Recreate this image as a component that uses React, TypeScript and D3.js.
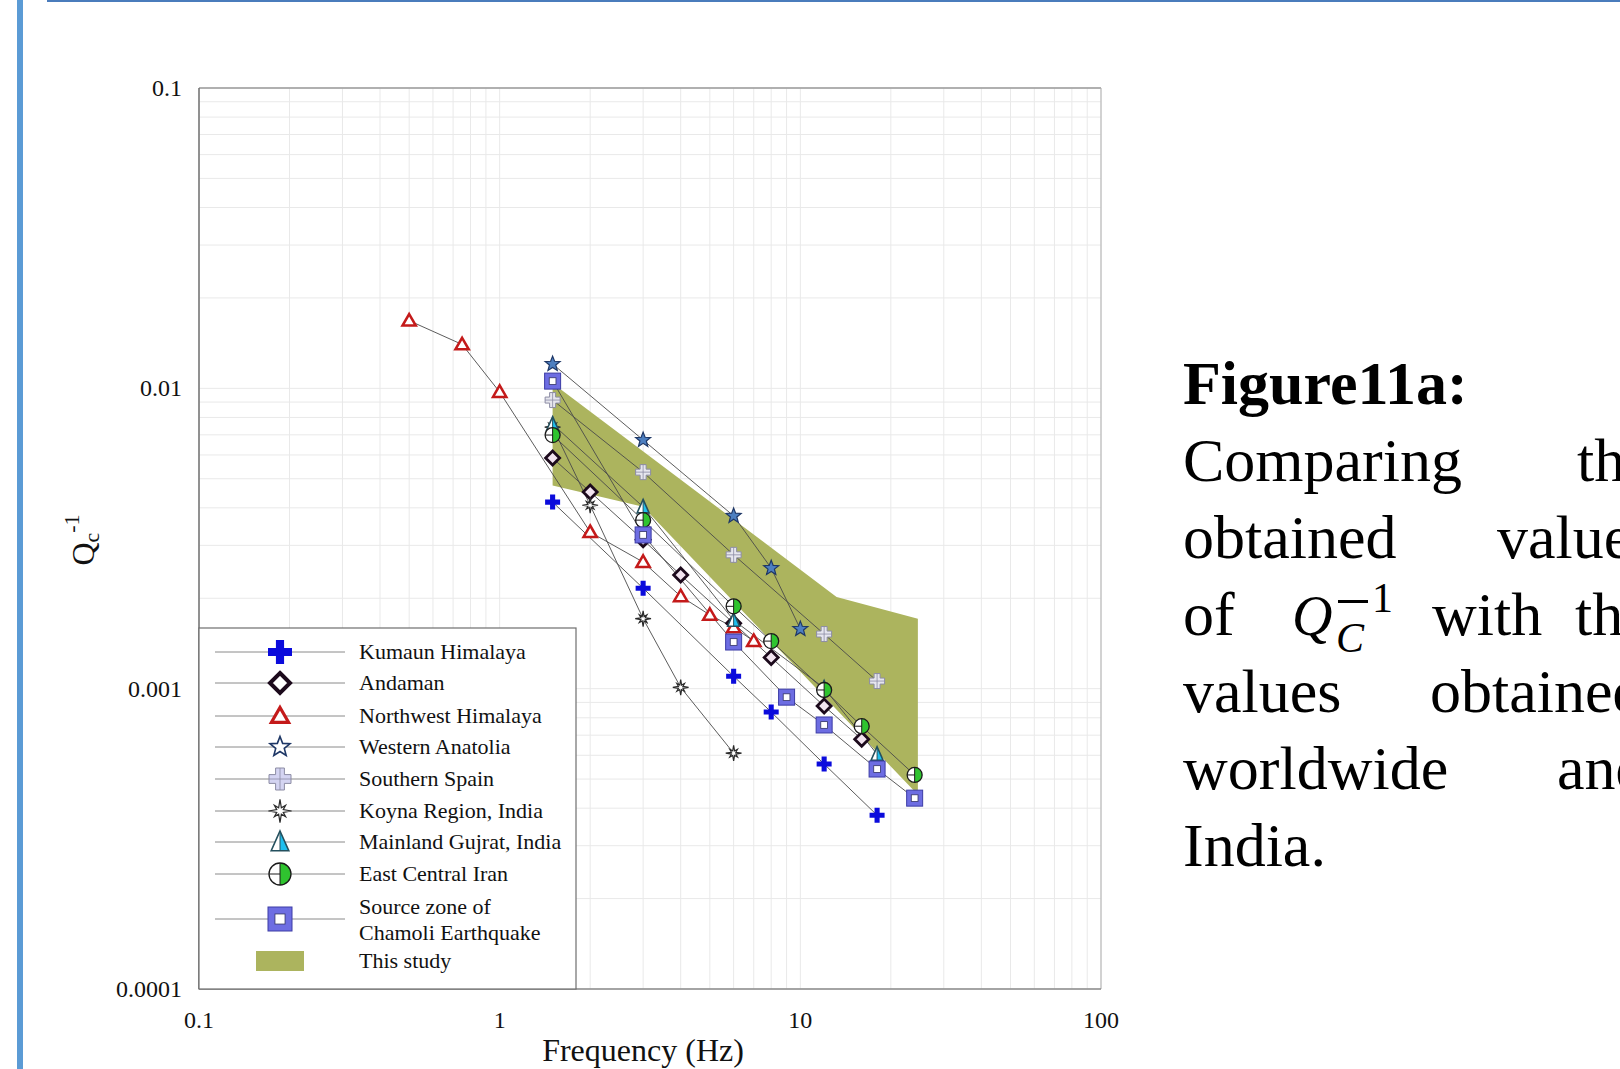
import React from "react";
import * as d3 from "d3";

// ---------- data ----------
const kumaunF = [1.5, 3, 6, 8, 12, 18];
const kumaunQ = [0.00418, 0.00216, 0.0011, 0.000836, 0.000561, 0.000379];
const andamanF = [1.5, 2, 3, 4, 6, 8, 12, 16];
const andamanQ = [0.00586, 0.00452, 0.00313, 0.00239, 0.00165, 0.00127, 0.000875, 0.000679];
const nwHimF = [0.5, 0.75, 1, 2, 3, 4, 5, 6, 7];
const nwHimQ = [0.0168, 0.014, 0.00972, 0.00332, 0.00264, 0.00203, 0.00176, 0.0016, 0.00144];
const anatoliaF = [1.5, 3, 6, 8, 10];
const anatoliaQ = [0.01205, 0.00673, 0.00376, 0.00252, 0.00158];
const spainF = [1.5, 3, 6, 12, 18];
const spainQ = [0.00914, 0.00526, 0.00279, 0.00152, 0.00106];
const koynaF = [1.5, 2, 3, 4, 6];
const koynaQ = [0.00743, 0.00408, 0.00171, 0.00101, 0.00061];
const gujaratF = [1.5, 3, 6, 12, 18];
const gujaratQ = [0.0076, 0.00403, 0.00169, 0.001005, 0.000605];
const iranF = [1.5, 3, 6, 8, 12, 16, 24];
const iranQ = [0.00699, 0.00364, 0.00188, 0.00144, 0.00099, 0.00075, 0.000516];
const chamoliF = [1.5, 3, 6, 9, 12, 18, 24];
const chamoliQ = [0.01057, 0.00325, 0.00143, 0.000937, 0.000757, 0.00054, 0.000432];

const bandUpperF = [1.5, 13.2, 24.6];
const bandUpperQ = [0.0104, 0.00202, 0.00171];
const bandLowerF = [1.5, 3, 24.6];
const bandLowerQ = [0.00475, 0.00403, 0.000443];

const xTicks = [0.1, 1, 10, 100];
const xTickLabels = ["0.1", "1", "10", "100"];
const yTicks = [0.1, 0.01, 0.001, 0.0001];
const yTickLabels = ["0.1", "0.01", "0.001", "0.0001"];

const seriesNames = [
  "Kumaun Himalaya",
  "Andaman",
  "Northwest Himalaya",
  "Western Anatolia",
  "Southern Spain",
  "Koyna Region, India",
  "Mainland Gujrat, India",
  "East Central Iran",
  "Source zone of|Chamoli Earthquake",
];
const seriesKinds = ["plus", "diamond", "triangle", "star", "spain", "koyna", "gujarat", "iran", "square"];
const seriesF = [kumaunF, andamanF, nwHimF, anatoliaF, spainF, koynaF, gujaratF, iranF, chamoliF];
const seriesQ = [kumaunQ, andamanQ, nwHimQ, anatoliaQ, spainQ, koynaQ, gujaratQ, iranQ, chamoliQ];
const bandLabel = "This study";

// ---------- layout ----------
const W = 1620;
const H = 1069;
const M = { left: 199, right: 1101, top: 88, bottom: 989 };
const SERIF = "'Liberation Serif', 'Times New Roman', serif";
const BAND_COLOR = "#acb45e";

const x = d3.scaleLog().domain([0.1, 100]).range([M.left, M.right]);
const y = d3.scaleLog().domain([0.0001, 0.1]).range([M.bottom, M.top]);

function starPoints(n: number, r1: number, r2: number, rot = -Math.PI / 2) {
  const pts: string[] = [];
  for (let i = 0; i < n * 2; i++) {
    const r = i % 2 === 0 ? r1 : r2;
    const a = rot + (i * Math.PI) / n;
    pts.push(`${(r * Math.cos(a)).toFixed(2)},${(r * Math.sin(a)).toFixed(2)}`);
  }
  return pts.join(" ");
}

function Marker({ kind, cx, cy, s, legend }: { kind: string; cx: number; cy: number; s: number; legend?: boolean }) {
  const r = s / 2;
  let el: React.ReactNode = null;
  switch (kind) {
    case "plus": {
      const t = s * 0.17;
      el = (
        <path
          d={`M${-t},${-r}H${t}V${-t}H${r}V${t}H${t}V${r}H${-t}V${t}H${-r}V${-t}H${-t}Z`}
          fill="#0b0bdc"
        />
      );
      break;
    }
    case "diamond":
      el = (
        <polygon
          points={`0,${-r} ${r},0 0,${r} ${-r},0`}
          fill={legend ? "#ffffff" : "#f2e4f0"}
          stroke="#1c0a1c"
          strokeWidth={s * 0.2}
        />
      );
      break;
    case "triangle":
      el = (
        <polygon
          points={`0,${-r * 0.95} ${r * 0.95},${r * 0.7} ${-r * 0.95},${r * 0.7}`}
          fill="#ffffff"
          stroke="#c41a1a"
          strokeWidth={s * 0.18}
          strokeLinejoin="miter"
        />
      );
      break;
    case "star":
      el = (
        <polygon
          points={starPoints(5, r * 1.05, r * 0.45)}
          fill={legend ? "#ffffff" : "#4d7fc0"}
          stroke="#1e3766"
          strokeWidth={legend ? 1.6 : 1.2}
        />
      );
      break;
    case "spain": {
      const a = s * 0.2;
      el = (
        <g>
          <path
            d={`M${-a},${-r}H${a}V${-a}H${r}V${a}H${a}V${r}H${-a}V${a}H${-r}V${-a}H${-a}Z`}
            fill={legend ? "#d4d4f2" : "#e6e6ee"}
            stroke="#8c8ca4"
            strokeWidth={1}
          />
          <line x1={0} y1={-r} x2={0} y2={r} stroke="#8c8ca4" strokeWidth={0.8} />
          <line x1={-r} y1={0} x2={r} y2={0} stroke="#8c8ca4" strokeWidth={0.8} />
        </g>
      );
      break;
    }
    case "koyna": {
      const pts: string[] = [];
      for (let i = 0; i < 16; i++) {
        const a = -Math.PI / 2 + (i * Math.PI) / 8;
        const rr = i % 2 === 1 ? r * 0.32 : i % 4 === 0 ? r * 1.05 : r * 0.72;
        pts.push(`${(rr * Math.cos(a)).toFixed(2)},${(rr * Math.sin(a)).toFixed(2)}`);
      }
      el = <polygon points={pts.join(" ")} fill="#ffffff" stroke="#2a2a2a" strokeWidth={1.2} />;
      break;
    }
    case "gujarat":
      el = (
        <g>
          <polygon points={`0,${-r} ${r * 0.8},${r * 0.8} ${-r * 0.8},${r * 0.8}`} fill="#ffffff" />
          <polygon points={`0,${-r} ${r * 0.8},${r * 0.8} 0,${r * 0.8}`} fill="#1ebfee" />
          <polygon
            points={`0,${-r} ${r * 0.8},${r * 0.8} ${-r * 0.8},${r * 0.8}`}
            fill="none"
            stroke="#24505e"
            strokeWidth={1.6}
          />
          <line x1={0} y1={-r} x2={0} y2={r * 0.8} stroke="#24505e" strokeWidth={1} />
        </g>
      );
      break;
    case "iran":
      el = (
        <g>
          <circle r={r} fill="#ffffff" />
          <path d={`M0,${-r}A${r},${r} 0 0 1 0,${r}Z`} fill="#2fc42f" />
          <circle r={r} fill="none" stroke="#1a1a1a" strokeWidth={1.3} />
          <line x1={0} y1={-r} x2={0} y2={r} stroke="#1a1a1a" strokeWidth={1} />
          <line x1={-r} y1={0} x2={0} y2={0} stroke="#1a1a1a" strokeWidth={1} />
        </g>
      );
      break;
    case "square": {
      const ir = r * 0.42;
      el = (
        <g>
          <rect x={-r} y={-r} width={s} height={s} fill="#6d6de2" stroke="#3c3ca6" strokeWidth={1} />
          <rect x={-ir} y={-ir} width={ir * 2} height={ir * 2} fill="#ffffff" stroke="#333366" strokeWidth={0.8} />
        </g>
      );
      break;
    }
  }
  return <g transform={`translate(${cx},${cy})`}>{el}</g>;
}

const plotSize: Record<string, number> = {
  plus: 15,
  diamond: 14,
  triangle: 14,
  star: 15,
  spain: 15,
  koyna: 15,
  gujarat: 15,
  iran: 15,
  square: 16,
};
const legendSize: Record<string, number> = {
  plus: 24,
  diamond: 20,
  triangle: 18,
  star: 20,
  spain: 22,
  koyna: 22,
  gujarat: 22,
  iran: 22,
  square: 24,
};

export default function App() {
  // grid
  const gridX: number[] = [];
  for (let e = -1; e < 2; e++) for (let k = 1; k <= 9; k++) gridX.push(k * Math.pow(10, e));
  gridX.push(100);
  const gridY: number[] = [];
  for (let e = -4; e < -1; e++) for (let k = 1; k <= 9; k++) gridY.push(k * Math.pow(10, e));
  gridY.push(0.1);

  const lineGen = d3
    .line<[number, number]>()
    .x((d) => x(d[0]))
    .y((d) => y(d[1]));

  const bandPts: [number, number][] = [
    ...bandUpperF.map((f, i) => [f, bandUpperQ[i]] as [number, number]),
    ...bandLowerF
      .map((f, i) => [f, bandLowerQ[i]] as [number, number])
      .reverse(),
  ];
  const bandPath = lineGen(bandPts) + "Z";

  // legend layout
  const legRowY = [652, 683, 716, 747, 779, 811, 842, 874, 919];
  const legBandY = 961;
  const legBox = { x: 199, y: 628, w: 377, h: 361 };

  const textLines: { words: { t: string; x: number }[]; y: number; bold?: boolean }[] = [
    { words: [{ t: "Figure11a:", x: 1183 }], y: 404, bold: true },
    { words: [{ t: "Comparing", x: 1183 }, { t: "the", x: 1577 }], y: 481 },
    { words: [{ t: "obtained", x: 1183 }, { t: "values", x: 1497 }], y: 558 },
    { words: [{ t: "of", x: 1183 }, { t: "with", x: 1432 }, { t: "the", x: 1575 }], y: 635 },
    { words: [{ t: "values", x: 1183 }, { t: "obtained", x: 1430 }], y: 712 },
    { words: [{ t: "worldwide", x: 1183 }, { t: "and", x: 1557 }], y: 789 },
    { words: [{ t: "India.", x: 1183 }], y: 866 },
  ];

  return (
    <svg
      width={W}
      height={H}
      style={{ position: "absolute", left: 0, top: 0, background: "#ffffff" }}
      fontFamily={SERIF}
    >
      <rect x={0} y={0} width={W} height={H} fill="#ffffff" />
      {/* page borders */}
      <rect x={17} y={0} width={6} height={H} fill="#5b9bd5" />
      <rect x={47} y={0} width={W - 47} height={2} fill="#4a7cbc" />

      {/* grid */}
      <g>
        {gridX.map((v, i) => (
          <line
            key={"gx" + i}
            x1={x(v)}
            x2={x(v)}
            y1={M.top}
            y2={M.bottom}
            stroke="#e9e9e9"
            strokeWidth={1}
          />
        ))}
        {gridY.map((v, i) => (
          <line
            key={"gy" + i}
            x1={M.left}
            x2={M.right}
            y1={y(v)}
            y2={y(v)}
            stroke="#e9e9e9"
            strokeWidth={1}
          />
        ))}
      </g>

      {/* band */}
      <path d={bandPath} fill={BAND_COLOR} stroke="none" />

      {/* series lines */}
      {seriesF.map((fs, si) => (
        <path
          key={"l" + si}
          d={lineGen(fs.map((f, i) => [f, seriesQ[si][i]] as [number, number])) || ""}
          fill="none"
          stroke="#4a4a4a"
          strokeWidth={0.9}
        />
      ))}

      {/* markers */}
      {seriesF.map((fs, si) => (
        <g key={"m" + si}>
          {fs.map((f, i) => (
            <Marker
              key={i}
              kind={seriesKinds[si]}
              cx={x(f)}
              cy={y(seriesQ[si][i])}
              s={plotSize[seriesKinds[si]]}
            />
          ))}
        </g>
      ))}

      {/* frame */}
      <line x1={M.left} x2={M.right} y1={M.top} y2={M.top} stroke="#9a9a9a" strokeWidth={1.5} />
      <line x1={M.right} x2={M.right} y1={M.top} y2={M.bottom} stroke="#b0b0b0" strokeWidth={1} />
      <line x1={M.left} x2={M.right} y1={M.bottom} y2={M.bottom} stroke="#8a8a8a" strokeWidth={1.5} />
      <line x1={M.left} x2={M.left} y1={M.top} y2={M.bottom} stroke="#707070" strokeWidth={1.5} />

      {/* legend */}
      <g>
        <rect x={legBox.x} y={legBox.y} width={legBox.w} height={legBox.h} fill="#ffffff" stroke="#6e6e6e" strokeWidth={1.2} />
        {seriesNames.map((name, i) => {
          const cy = legRowY[i];
          const parts = name.split("|");
          return (
            <g key={"lg" + i}>
              <line x1={215} x2={345} y1={cy} y2={cy} stroke="#8a8a8a" strokeWidth={1} />
              <Marker kind={seriesKinds[i]} cx={280} cy={cy} s={legendSize[seriesKinds[i]]} legend />
              {parts.length === 1 ? (
                <text x={359} y={cy + 7} fontSize={22} fill="#111">
                  {name}
                </text>
              ) : (
                <g>
                  <text x={359} y={cy - 5} fontSize={22} fill="#111">
                    {parts[0]}
                  </text>
                  <text x={359} y={cy + 21} fontSize={22} fill="#111">
                    {parts[1]}
                  </text>
                </g>
              )}
            </g>
          );
        })}
        <rect x={256} y={legBandY - 10} width={48} height={20} fill={BAND_COLOR} />
        <text x={359} y={legBandY + 7} fontSize={22} fill="#111">
          {bandLabel}
        </text>
      </g>

      {/* axis tick labels */}
      {yTicks.map((v, i) => (
        <text key={"yt" + i} x={182} y={y(v) + 8} fontSize={24} textAnchor="end" fill="#111">
          {yTickLabels[i]}
        </text>
      ))}
      {xTicks.map((v, i) => (
        <text key={"xt" + i} x={x(v)} y={1028} fontSize={24} textAnchor="middle" fill="#111">
          {xTickLabels[i]}
        </text>
      ))}

      {/* axis titles */}
      <text x={643} y={1061} fontSize={32} textAnchor="middle" fill="#111">
        Frequency (Hz)
      </text>
      <g transform="translate(94,540) rotate(-90)">
        <text x={0} y={0} fontSize={32} textAnchor="middle" fill="#111">
          Q
          <tspan fontSize={22} dy={5}>c</tspan>
          <tspan fontSize={22} dy={-20}>-1</tspan>
        </text>
      </g>

      {/* caption */}
      {textLines.map((ln, li) => (
        <g key={"tl" + li}>
          {ln.words.map((w, wi) => (
            <text
              key={wi}
              x={w.x}
              y={ln.y}
              fontSize={62}
              fontWeight={ln.bold ? "bold" : "normal"}
              fill="#000"
            >
              {w.t}
            </text>
          ))}
        </g>
      ))}
      {/* Q_C^-1 math */}
      <g fill="#000">
        <text x={1292} y={635} fontSize={56} fontStyle="italic">
          Q
        </text>
        <text x={1336} y={652} fontSize={42} fontStyle="italic">
          C
        </text>
        <rect x={1338} y={600} width={30} height={3} />
        <text x={1372} y={612} fontSize={42}>
          1
        </text>
      </g>
    </svg>
  );
}
